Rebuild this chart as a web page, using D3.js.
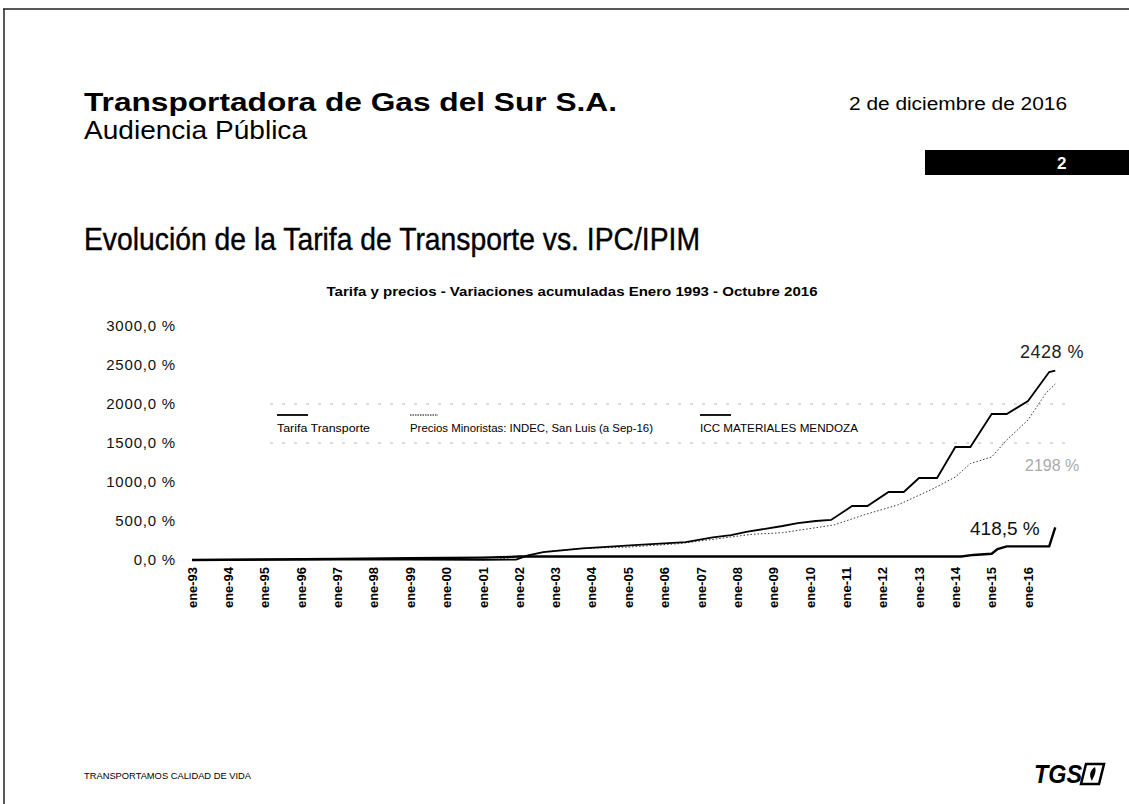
<!DOCTYPE html>
<html>
<head>
<meta charset="utf-8">
<script src="https://cdn.jsdelivr.net/npm/d3@7"></script>
<style>
  body { margin: 0; background: #fff; }
  svg { display: block; font-family: "Liberation Sans", Arial, sans-serif; }
</style>
</head>
<body>
<svg id="slide" width="1129" height="804"></svg>
<script>
// values
const yTicks = [0, 500, 1000, 1500, 2000, 2500, 3000];
const gridLevels = [1500, 2000];
const tickYears = d3.range(1993, 2017);

const tarifaDates = ["1993-01", "1995-01", "1997-01", "1999-01", "2001-01", "2001-10", "2002-01",
    "2014-03", "2014-07", "2015-01", "2015-03", "2015-06", "2016-08", "2016-10"];
const tarifaValues = [0, 8, 15, 22, 30, 40, 45,
    45, 65, 80, 140, 175, 175, 418.5];

const preciosDates = ["1993-01", "1996-01", "1999-01", "2001-06", "2002-04", "2002-10", "2003-10",
    "2005-01", "2006-06", "2007-06", "2008-06", "2009-04", "2010-09", "2011-07", "2012-06",
    "2013-05", "2014-01", "2014-06", "2015-01", "2015-06", "2016-01", "2016-07", "2016-10"];
const preciosValues = [0, 5, 8, 10, 60, 110, 150,
    165, 210, 270, 330, 350, 450, 580, 705,
    900, 1064, 1236, 1321, 1538, 1795, 2141, 2256];

const iccDates = ["1993-01", "1995-01", "1997-01", "1999-01", "2001-01", "2001-12", "2002-04",
    "2002-09", "2003-10", "2005-03", "2006-08", "2007-05", "2007-11", "2008-04", "2009-04",
    "2009-09", "2010-03", "2010-08", "2011-03", "2011-08", "2012-03", "2012-08", "2013-01",
    "2013-07", "2014-01", "2014-06", "2015-01", "2015-06", "2016-01", "2016-08", "2016-10"];
const iccValues = [0, 3, 5, 4, 2, 5, 60,
    100, 150, 190, 230, 290, 320, 360, 436,
    474, 500, 513, 692, 692, 872, 872, 1051,
    1051, 1449, 1449, 1872, 1872, 2038, 2410, 2428];

const legendNames = ["Tarifa Transporte", "Precios Minoristas: INDEC, San Luis (a Sep-16)", "ICC MATERIALES MENDOZA"];

const parseMonth = d3.timeParse("%Y-%m");
const esLocale = d3.timeFormatLocale({
    dateTime: "%x, %X", date: "%d/%m/%Y", time: "%H:%M:%S", periods: ["AM", "PM"],
    days: ["domingo", "lunes", "martes", "miércoles", "jueves", "viernes", "sábado"],
    shortDays: ["dom", "lun", "mar", "mié", "jue", "vie", "sáb"],
    months: ["enero", "febrero", "marzo", "abril", "mayo", "junio", "julio", "agosto", "septiembre", "octubre", "noviembre", "diciembre"],
    shortMonths: ["ene", "feb", "mar", "abr", "may", "jun", "jul", "ago", "sep", "oct", "nov", "dic"]
});

function toSeries(dates, values) {
    return dates.map((d, i) => ({date: parseMonth(d), value: values[i]}));
}

const svg = d3.select("#slide");

// page frame (scan edges)
svg.append("line").attr("x1", 3).attr("x2", 1129).attr("y1", 9).attr("y2", 9)
    .attr("stroke", "#222").attr("stroke-width", 1.5);
svg.append("line").attr("x1", 4).attr("x2", 4).attr("y1", 9).attr("y2", 804)
    .attr("stroke", "#222").attr("stroke-width", 1.5);

// header
svg.append("text").attr("x", 84).attr("y", 111)
    .attr("font-size", 25).attr("font-weight", "bold")
    .attr("textLength", 533).attr("lengthAdjust", "spacingAndGlyphs")
    .text("Transportadora de Gas del Sur S.A.");
svg.append("text").attr("x", 84).attr("y", 139)
    .attr("font-size", 25)
    .attr("textLength", 223).attr("lengthAdjust", "spacingAndGlyphs")
    .text("Audiencia Pública");
svg.append("text").attr("x", 849).attr("y", 110)
    .attr("font-size", 18)
    .attr("textLength", 218).attr("lengthAdjust", "spacingAndGlyphs")
    .text("2 de diciembre de 2016");

svg.append("rect").attr("x", 925).attr("y", 150).attr("width", 204).attr("height", 25).attr("fill", "#000");
svg.append("text").attr("x", 1057).attr("y", 169).attr("font-size", 17).attr("font-weight", "bold")
    .attr("fill", "#fff").text("2");

svg.append("text").attr("x", 84).attr("y", 250)
    .attr("font-size", 32)
    .attr("stroke", "#000").attr("stroke-width", 0.4)
    .attr("textLength", 616).attr("lengthAdjust", "spacingAndGlyphs")
    .text("Evolución de la Tarifa de Transporte vs. IPC/IPIM");

// chart
const x = d3.scaleTime()
    .domain([new Date(1993, 0, 1), new Date(2016, 0, 1)])
    .range([192, 1028]);
const y = d3.scaleLinear()
    .domain([0, 3000])
    .range([560, 326]);

svg.append("text").attr("x", 572).attr("y", 296).attr("text-anchor", "middle")
    .attr("font-size", 12).attr("font-weight", "bold")
    .attr("textLength", 491).attr("lengthAdjust", "spacingAndGlyphs")
    .text("Tarifa y precios - Variaciones acumuladas Enero 1993 - Octubre 2016");

// faint gridlines that survived the scan
svg.append("g").selectAll("line")
    .data(gridLevels)
    .join("line")
    .attr("x1", 270).attr("x2", 1065)
    .attr("y1", d => y(d)).attr("y2", d => y(d))
    .attr("stroke", "#b8b8b8").attr("stroke-width", 1)
    .attr("stroke-dasharray", "3,9");

const yAxis = svg.append("g")
    .attr("transform", "translate(176,0)")
    .call(d3.axisLeft(y).tickValues(yTicks).tickSize(0).tickPadding(0)
        .tickFormat(d => d3.format(".1f")(d).replace(".", ",") + " %"));
yAxis.select(".domain").remove();
yAxis.selectAll("text").attr("font-size", 15).attr("fill", "#111")
    .attr("letter-spacing", 0.8)
    .attr("font-family", "'Liberation Sans', Arial, sans-serif");

const fmtTick = esLocale.format("%b-%y");
const xAxis = svg.append("g")
    .attr("transform", "translate(0,567)")
    .call(d3.axisBottom(x).tickValues(tickYears.map(yr => new Date(yr, 0, 1)))
        .tickSize(0).tickPadding(0).tickFormat(fmtTick));
xAxis.select(".domain").remove();
xAxis.selectAll("text")
    .attr("transform", "rotate(-90)")
    .attr("text-anchor", "end")
    .attr("x", 0).attr("y", 0).attr("dy", "0.35em")
    .attr("font-size", 12).attr("font-weight", "bold").attr("fill", "#000")
    .attr("textLength", 41).attr("lengthAdjust", "spacingAndGlyphs")
    .attr("font-family", "'Liberation Sans', Arial, sans-serif");

const line = d3.line().x(d => x(d.date)).y(d => y(d.value));

svg.append("path").datum(toSeries(preciosDates, preciosValues))
    .attr("d", line).attr("fill", "none")
    .attr("stroke", "#333").attr("stroke-width", 1)
    .attr("stroke-dasharray", "1.5,2");
svg.append("path").datum(toSeries(iccDates, iccValues))
    .attr("d", line).attr("fill", "none")
    .attr("stroke", "#000").attr("stroke-width", 1.8);
svg.append("path").datum(toSeries(tarifaDates, tarifaValues))
    .attr("d", line).attr("fill", "none")
    .attr("stroke", "#000").attr("stroke-width", 2.4);

// legend
const legendX = [277, 410, 700];
const legendW = [93, 243, 158];
const legend = svg.append("g").selectAll("g")
    .data(legendNames)
    .join("g")
    .attr("transform", (d, i) => `translate(${legendX[i]},0)`);
legend.append("line")
    .attr("x1", 0).attr("x2", (d, i) => i === 1 ? 28 : 31).attr("y1", 415).attr("y2", 415)
    .attr("stroke", "#000")
    .attr("stroke-width", (d, i) => i === 1 ? 1 : 1.8)
    .attr("stroke-dasharray", (d, i) => i === 1 ? "1.5,1" : null);
legend.append("text")
    .attr("x", 0).attr("y", 432)
    .attr("font-size", 11)
    .attr("textLength", (d, i) => legendW[i]).attr("lengthAdjust", "spacingAndGlyphs")
    .text(d => d);

// end-value annotations
svg.append("text").attr("x", 1020).attr("y", 358).attr("font-size", 18).attr("fill", "#222")
    .attr("letter-spacing", 0.5)
    .text(d3.format(".0f")(iccValues[iccValues.length - 1]) + " %");
svg.append("text").attr("x", 1025).attr("y", 471).attr("font-size", 16).attr("fill", "#aaa")
    .text("2198 %");
svg.append("text").attr("x", 970).attr("y", 535).attr("font-size", 19).attr("fill", "#111")
    .text(d3.format(".1f")(tarifaValues[tarifaValues.length - 1]).replace(".", ",") + " %");

// footer
svg.append("text").attr("x", 84).attr("y", 779)
    .attr("font-size", 9)
    .attr("textLength", 167).attr("lengthAdjust", "spacingAndGlyphs")
    .text("TRANSPORTAMOS CALIDAD DE VIDA");
svg.append("text").attr("x", 1034).attr("y", 783)
    .attr("font-size", 26).attr("font-weight", "bold").attr("font-style", "italic")
    .attr("textLength", 48).attr("lengthAdjust", "spacingAndGlyphs")
    .text("TGS");
svg.append("path")
    .attr("d", "M1086,764 L1104,764 L1099,784 L1081,784 Z")
    .attr("fill", "none").attr("stroke", "#000").attr("stroke-width", 2.5);
svg.append("path")
    .attr("d", "M1095,767 C1088,772 1090,777 1092,781 C1093,777 1097,773 1095,767 Z")
    .attr("fill", "#000");
</script>
</body>
</html>
